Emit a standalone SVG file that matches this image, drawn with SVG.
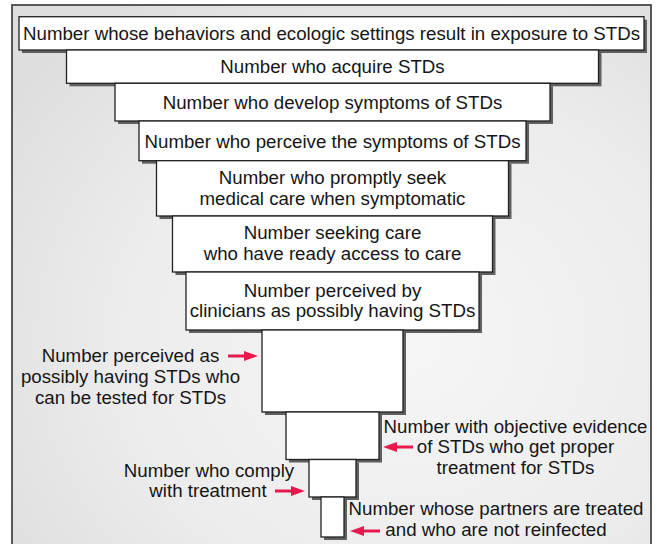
<svg xmlns="http://www.w3.org/2000/svg" width="657" height="544" viewBox="0 0 657 544">
  <defs>
    <radialGradient id="bg" cx="0.62" cy="0.6" r="0.75">
      <stop offset="0" stop-color="#f6f6f7"/>
      <stop offset="0.6" stop-color="#ececed"/>
      <stop offset="1" stop-color="#dedede"/>
    </radialGradient>
    <marker id="ah" viewBox="0 0 14 10" refX="6" refY="5" markerWidth="14" markerHeight="10" markerUnits="userSpaceOnUse" orient="auto">
      <path d="M0,0 L14,5 L0,10 Z" fill="#e8194c"/>
    </marker>
  </defs>
  <style>
    .box { fill: #ffffff; stroke: #222222; stroke-width: 1.3; }
    .sh { fill: #606060; }
    .t { font-family: "Liberation Sans", Arial, Helvetica, sans-serif; font-size: 18.7px; fill: #151515; text-anchor: middle; }
    .arr { stroke: #e8194c; stroke-width: 3; fill: none; marker-end: url(#ah); }
  </style>

  <rect x="12" y="5" width="639" height="560" fill="url(#bg)" stroke="#333333" stroke-width="1.6"/>

  <g id="n1">
    <rect class="sh" x="22" y="19.7" width="625" height="33.3"/>
    <rect class="box" x="19" y="16.7" width="625" height="33.3"/>
    <text class="t" x="331.5" y="39.8">Number whose behaviors and ecologic settings result in exposure to STDs</text>
  </g>
  <g id="n2">
    <rect class="sh" x="69.5" y="53" width="532" height="33.3"/>
    <rect class="box" x="66.5" y="50" width="532" height="33.3"/>
    <text class="t" x="332.5" y="73.4">Number who acquire STDs</text>
  </g>
  <g id="n3">
    <rect class="sh" x="118" y="86.3" width="435" height="37.7"/>
    <rect class="box" x="115" y="83.3" width="435" height="37.7"/>
    <text class="t" x="332.5" y="108.7">Number who develop symptoms of STDs</text>
  </g>
  <g id="n4">
    <rect class="sh" x="142" y="124" width="387" height="39.7"/>
    <rect class="box" x="139" y="121" width="387" height="39.7"/>
    <text class="t" x="332.5" y="147.5">Number who perceive the symptoms of STDs</text>
  </g>
  <g id="n5">
    <rect class="sh" x="159.5" y="163.7" width="352" height="55.3"/>
    <rect class="box" x="156.5" y="160.7" width="352" height="55.3"/>
    <text class="t" x="332.5" y="184.3">Number who promptly seek</text>
    <text class="t" x="332.5" y="204.8">medical care when symptomatic</text>
  </g>
  <g id="n6">
    <rect class="sh" x="175.5" y="219" width="320" height="56"/>
    <rect class="box" x="172.5" y="216" width="320" height="56"/>
    <text class="t" x="332.5" y="239.3">Number seeking care</text>
    <text class="t" x="332.5" y="259.8">who have ready access to care</text>
  </g>
  <g id="n7">
    <rect class="sh" x="189" y="275" width="293" height="58"/>
    <rect class="box" x="186" y="272" width="293" height="58"/>
    <text class="t" x="332.5" y="296.7">Number perceived by</text>
    <text class="t" x="332.5" y="317.2">clinicians as possibly having STDs</text>
  </g>
  <g id="n8">
    <rect class="sh" x="265" y="333" width="141" height="82"/>
    <rect class="box" x="262" y="330" width="141" height="82"/>
  </g>
  <g id="n9">
    <rect class="sh" x="289" y="415" width="93" height="47.5"/>
    <rect class="box" x="286" y="412" width="93" height="47.5"/>
  </g>
  <g id="n10">
    <rect class="sh" x="312" y="462.5" width="47" height="37.5"/>
    <rect class="box" x="309" y="459.5" width="47" height="37.5"/>
  </g>
  <g id="n11">
    <rect class="sh" x="324" y="500" width="23" height="40"/>
    <rect class="box" x="321" y="497" width="23" height="40"/>
  </g>

  <g id="label-tested">
    <text class="t" x="130.5" y="361.7">Number perceived as</text>
    <text class="t" x="130.5" y="383.2">possibly having STDs who</text>
    <text class="t" x="130.5" y="404.2">can be tested for STDs</text>
  </g>
  <g id="label-evidence">
    <text class="t" x="515.5" y="432.7">Number with objective evidence</text>
    <text class="t" x="515.5" y="453">of STDs who get proper</text>
    <text class="t" x="515.5" y="473.5">treatment for STDs</text>
  </g>
  <g id="label-comply">
    <text class="t" x="209" y="476.7">Number who comply</text>
    <text class="t" x="208" y="497">with treatment</text>
  </g>
  <g id="label-partners">
    <text class="t" x="496" y="515.3">Number whose partners are treated</text>
    <text class="t" x="496" y="535.5">and who are not reinfected</text>
  </g>

  <g id="connectors">
    <path class="arr" d="M228,356 H250"/>
    <path class="arr" d="M413,447 H391"/>
    <path class="arr" d="M275,491 H297"/>
    <path class="arr" d="M380,531 H358"/>
  </g>
</svg>
